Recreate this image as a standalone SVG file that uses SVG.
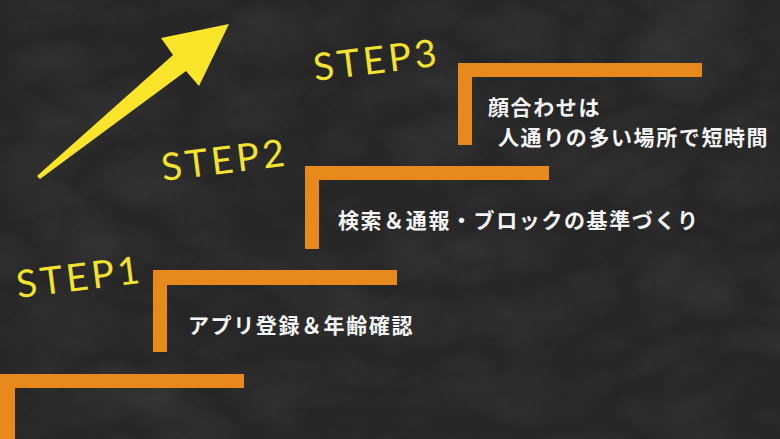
<svg xmlns="http://www.w3.org/2000/svg" width="780" height="439" viewBox="0 0 780 439">
  <defs>
    <filter id="tex" x="0" y="0" width="100%" height="100%">
      <feTurbulence type="turbulence" baseFrequency="0.008 0.014" numOctaves="4" seed="7" result="t"/>
      <feColorMatrix type="matrix" values="0 0 0 0 1  0 0 0 0 1  0 0 0 0 1  0.5 0 0 0 -0.05" />
    </filter>
    <style>
      .bg { fill: #262626; }
      .stair { fill: #E8891C; }
      .label { font-family: "Lato", "Open Sans", "Liberation Sans", sans-serif; font-size: 38px; letter-spacing: 3.5px; fill: #F3E22E; }
      .desc { font-family: "Noto Sans CJK JP", "Noto Sans", sans-serif; font-weight: 700; font-size: 21px; letter-spacing: 1.6px; fill: #F4F4F4; }
      .arrow { fill: #FBE52A; }
    </style>
  </defs>
  <rect class="bg" x="0" y="0" width="780" height="439"/>
  <rect x="0" y="0" width="780" height="439" filter="url(#tex)" opacity="0.2"/>

  <g id="arrow">
    <polygon class="arrow" points="229,24 199,86 186,71 40,179 37,176 173,55 161,38"/>
  </g>

  <g id="step0">
    <path class="stair" d="M0,374 H244 V388 H15 V439 H0 Z"/>
  </g>

  <g id="step1">
    <path class="stair" d="M153,270 H397 V285 H167 V352 H153 Z"/>
    <text class="label" x="18" y="298" transform="rotate(-7 18 298)">STEP1</text>
    <text class="desc" x="188" y="333">アプリ登録＆年齢確認</text>
  </g>

  <g id="step2">
    <path class="stair" d="M305,166 H549 V180 H319 V249 H305 Z"/>
    <text class="label" x="163" y="181" transform="rotate(-7 163 181)">STEP2</text>
    <text class="desc" x="338" y="228">検索＆通報・ブロックの基準づくり</text>
  </g>

  <g id="step3">
    <path class="stair" d="M458,63 H702 V77 H472 V145 H458 Z"/>
    <text class="label" x="315" y="81" transform="rotate(-7 315 81)">STEP3</text>
    <text class="desc" x="488" y="115">顔合わせは</text>
    <text class="desc" x="498" y="145">人通りの多い場所で短時間</text>
  </g>
</svg>
